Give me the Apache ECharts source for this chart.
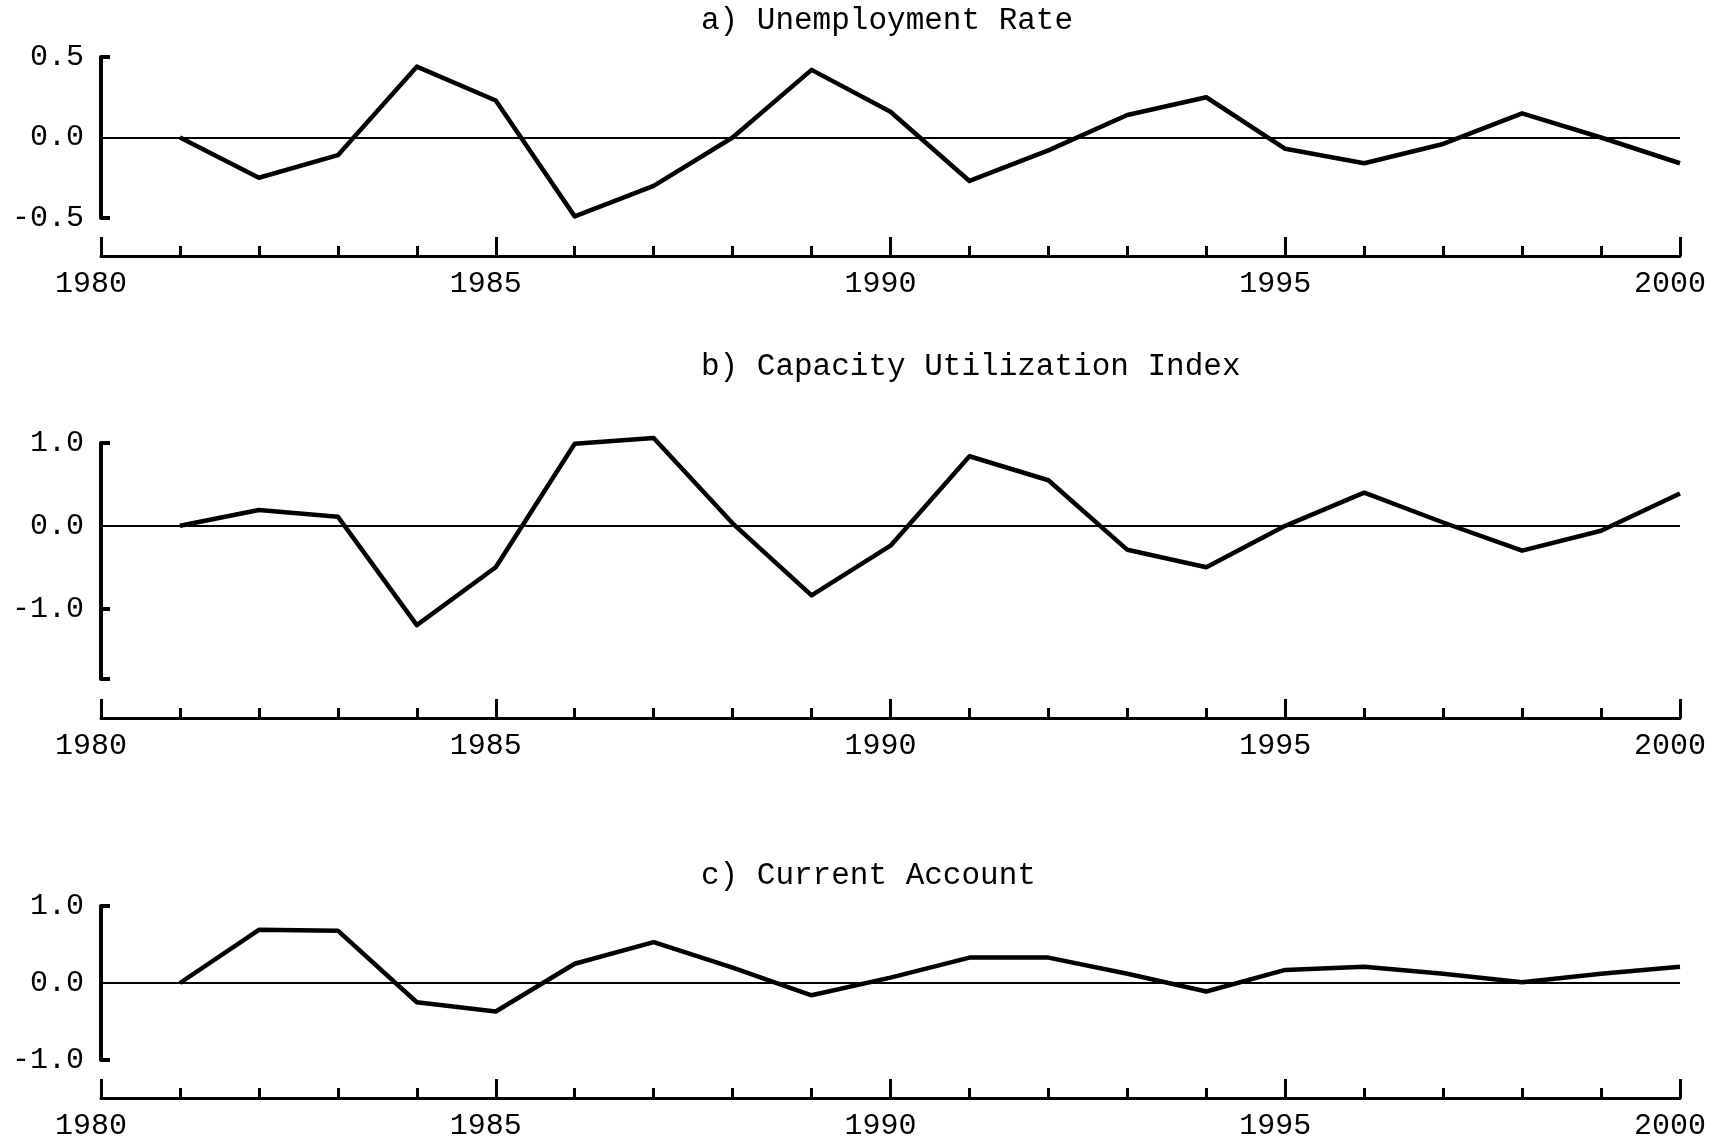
<!DOCTYPE html>
<html>
<head>
<meta charset="utf-8">
<script src="https://cdn.jsdelivr.net/npm/echarts@6/dist/echarts.min.js"></script>
<style>
  html, body { margin: 0; padding: 0; background: #fff; }
  #chart { width: 1716px; height: 1147px; }
</style>
</head>
<body>
<div id="chart"></div>
<script>
// years on the x axis
var years = [1980, 1981, 1982, 1983, 1984, 1985, 1986, 1987, 1988, 1989, 1990,
             1991, 1992, 1993, 1994, 1995, 1996, 1997, 1998, 1999, 2000];
var xTickLabels = [1980, 1985, 1990, 1995, 2000];

// panel titles
var titles = ['a) Unemployment Rate', 'b) Capacity Utilization Index', 'c) Current Account'];

// series values (1980 has no point)
var unemployment = [null, 0, -0.25, -0.11, 0.44, 0.23, -0.49, -0.30, 0.0, 0.42, 0.16,
                    -0.27, -0.08, 0.14, 0.25, -0.07, -0.16, -0.04, 0.15, 0.0, -0.16];
var capacity = [null, 0, 0.19, 0.11, -1.20, -0.50, 0.99, 1.06, 0.03, -0.84, -0.24,
                0.84, 0.55, -0.29, -0.50, 0.0, 0.40, 0.04, -0.30, -0.06, 0.39];
var currentAccount = [null, 0, 0.69, 0.68, -0.25, -0.37, 0.25, 0.53, 0.2, -0.16, 0.07,
                      0.33, 0.33, 0.12, -0.11, 0.17, 0.21, 0.12, 0.01, 0.12, 0.21];

// y axis tick labels, tick marks and ranges per panel
var yLabels = [[0.5, 0, -0.5], [1, 0, -1], [1, 0, -1]];
var yTicks = [[0.5, -0.5], [1, -1, -1.85], [1, -1]];
var yRange = [[-0.5, 0.5], [-1.85, 1], [-1, 1]];

//panel layout
var grids = [
    {top: 57, height: 161, offset: 38, titleTop: 5},
    {top: 443, height: 236, offset: 39, titleTop: 351},
    {top: 906, height: 154, offset: 38, titleTop: 860}
];

var font = 'Liberation Mono';

function pairs(vals) {
    return years.map(function (y, i) { return [y, vals[i]]; });
}

var allSeries = [unemployment, capacity, currentAccount];

var option = {
    backgroundColor: '#fff',
    animation: false,
    title: [],
    grid: [],
    xAxis: [],
    yAxis: [],
    series: []
};

grids.forEach(function (g, i) {
    option.title.push({
        text: titles[i],
        left: 701,
        top: g.titleTop,
        padding: 0,
        textStyle: {fontFamily: font, fontSize: 31, fontWeight: 'normal', color: '#000'}
    });
    option.grid.push({left: 101, right: 36, top: g.top, height: g.height});
    option.xAxis.push({
        type: 'value',
        gridIndex: i,
        min: 1980,
        max: 2000,
        interval: 5,
        offset: g.offset,
        axisLine: {show: true, onZero: false, lineStyle: {color: '#000', width: 3}},
        axisTick: {show: true, inside: true, length: 19, lineStyle: {color: '#000', width: 3}},
        minorTick: {show: true, splitNumber: 5, length: 10, lineStyle: {color: '#000', width: 3}},
        splitLine: {show: false},
        minorSplitLine: {show: false},
        axisLabel: {
            customValues: xTickLabels,
            fontFamily: font, fontSize: 30, color: '#000', margin: 13,
            padding: [0, 20, 0, 0],
            formatter: function (v) { return String(v); }
        }
    });
    option.yAxis.push({
        type: 'value',
        gridIndex: i,
        min: yRange[i][0],
        max: yRange[i][1],
        axisLine: {show: true, lineStyle: {color: '#000', width: 4}},
        axisTick: {show: true, inside: true, length: 9, customValues: yTicks[i],
                   lineStyle: {color: '#000', width: 4}},
        splitLine: {show: false},
        axisLabel: {
            customValues: yLabels[i],
            fontFamily: font, fontSize: 30, color: '#000', margin: 17,
            formatter: function (v) { return v.toFixed(1); }
        }
    });
    option.series.push({
        type: 'line',
        xAxisIndex: i,
        yAxisIndex: i,
        data: pairs(allSeries[i]),
        symbol: 'none',
        clip: false,
        lineStyle: {color: '#000', width: 4.5, join: 'round'},
        markLine: {
            silent: true,
            symbol: ['none', 'none'],
            label: {show: false},
            lineStyle: {color: '#000', width: 2.2, type: 'solid'},
            data: [{yAxis: 0}]
        },
        z: 3
    });
});

var myChart = echarts.init(document.getElementById('chart'));
myChart.setOption(option);
</script>
</body>
</html>
